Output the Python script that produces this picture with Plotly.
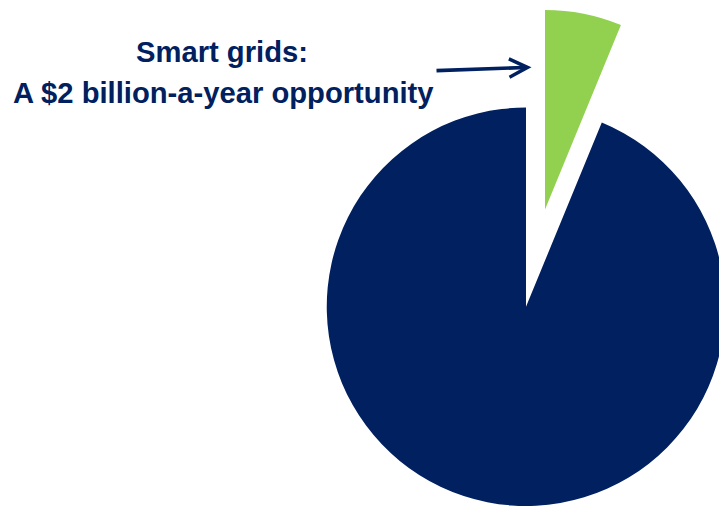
import plotly.graph_objects as go

# Data
labels = ["Smart grids", "Rest of market"]
values = [2.0, 30.2]
navy = "#002060"
green = "#92D050"

title_line1 = "<b>Smart grids:</b>"
title_line2 = "<b>A $2 billion-a-year opportunity</b>"

W, H = 745, 506  # canvas slightly wider than the window so the pie is clipped at the right edge


def px_x(x):
    return x / W


def px_y(y):
    return 1 - y / H


fig = go.Figure()

# main (navy) pie, green slice left empty
fig.add_trace(go.Pie(
    labels=labels, values=values, sort=False, direction="clockwise", rotation=0,
    marker=dict(colors=["rgba(0,0,0,0)", navy], line=dict(width=0)),
    textinfo="none", hoverinfo="label+value", showlegend=False,
    domain=dict(x=[px_x(326.5), px_x(725.5)], y=[0, px_y(107.5)]),
))

# exploded (green) slice, drawn from the same data at a shifted centre
fig.add_trace(go.Pie(
    labels=labels, values=values, sort=False, direction="clockwise", rotation=0,
    marker=dict(colors=[green, "rgba(0,0,0,0)"], line=dict(width=0)),
    textinfo="none", hoverinfo="label+value", showlegend=False,
    domain=dict(x=[px_x(345.5), px_x(744.5)], y=[px_y(409), px_y(10)]),
))

font = dict(family="Arial, Liberation Sans, sans-serif", size=29.2, color=navy)
fig.add_annotation(text=title_line1, x=px_x(222), y=px_y(52), xref="paper", yref="paper",
                   xanchor="center", yanchor="middle", showarrow=False, font=font)
fig.add_annotation(text=title_line2, x=px_x(223), y=px_y(93), xref="paper", yref="paper",
                   xanchor="center", yanchor="middle", showarrow=False, font=font)

# arrow pointing at the green slice
fig.add_annotation(text="", x=px_x(531.5), y=px_y(67.3), xref="paper", yref="paper",
                   ax=-96.5, ay=3.4, showarrow=True, arrowhead=5, arrowsize=1.0,
                   arrowwidth=3.6, arrowcolor=navy, standoff=0)

fig.update_layout(
    width=W, height=H,
    margin=dict(l=0, r=0, t=0, b=0),
    paper_bgcolor="white", plot_bgcolor="white",
)

fig.write_html("out.html")
